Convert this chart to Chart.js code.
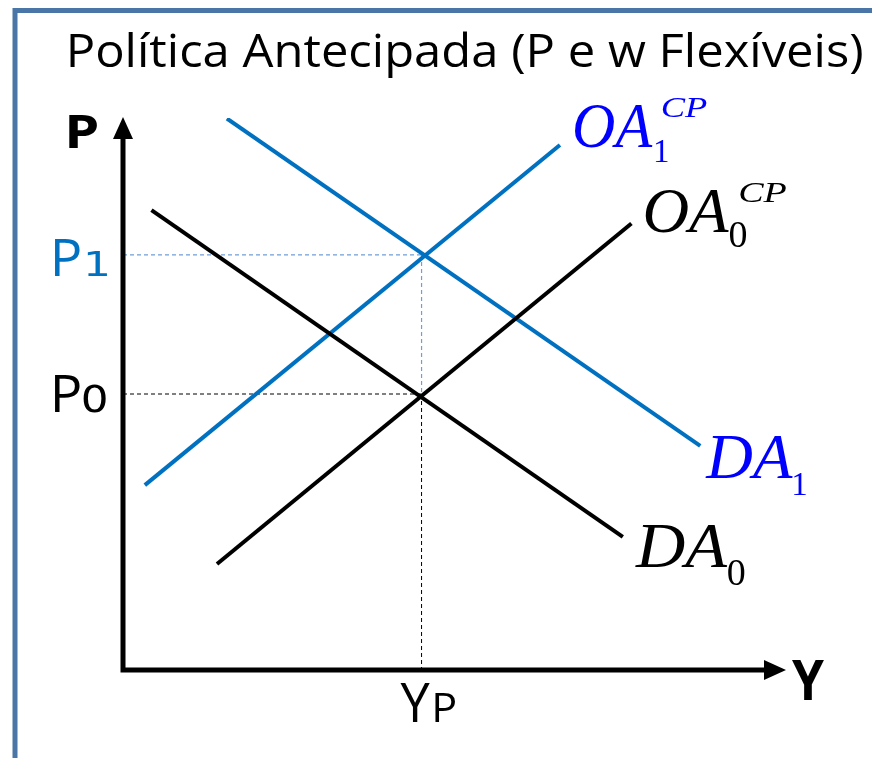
<!DOCTYPE html>
<html>
<head>
<meta charset="utf-8">
<script src="https://cdn.jsdelivr.net/npm/chart.js@4.4.1/dist/chart.umd.min.js"></script>
<style>
  html, body { margin: 0; padding: 0; background: #ffffff; }
  #wrap { width: 872px; height: 758px; position: relative; }
</style>
</head>
<body>
<div id="wrap"><canvas id="c" width="872" height="758"></canvas></div>
<script>
// ---------------- DATA ----------------
const titleText = 'Política Antecipada (P e w Flexíveis)';
const axisLabels = ['P', 'Y'];
const priceTickLabels = ['P', 'P'];
const priceTickSubs = ['0', '1'];
const priceLevels = [50.0, 75.2];          // P0, P1
const outputTickLabel = ['Y', 'P'];
const potentialOutput = 45.1;              // YP

// curves: [start, end]
const da0X = [4.3, 75.5],  da0Y = [83.3, 24.1];
const oa0X = [14.2, 76.8], oa0Y = [19.2, 80.9];
const da1X = [15.7, 87.2], da1Y = [99.9, 40.6];
const oa1X = [3.3, 66.0],  oa1Y = [33.5, 95.1];

const curveNames = ['DA', 'OA', 'DA', 'OA'];
const curveSubs  = ['0', '0', '1', '1'];
const curveSups  = ['', 'CP', '', 'CP'];

// ---------------- STYLE ----------------
const BLUE_LINE = '#0070C0';
const BLUE_TEXT = '#0000FF';
const LIGHT_DASH = '#6f9fd8';
const BORDER = '#4a76a7';

const pts = (xs, ys) => xs.map((x, i) => ({ x, y: ys[i] }));

const datasets = [
  { label: 'DA0', data: pts(da0X, da0Y), borderColor: '#000000', borderWidth: 4 },
  { label: 'OA0', data: pts(oa0X, oa0Y), borderColor: '#000000', borderWidth: 4 },
  { label: 'DA1', data: pts(da1X, da1Y), borderColor: BLUE_LINE, borderWidth: 4 },
  { label: 'OA1', data: pts(oa1X, oa1Y), borderColor: BLUE_LINE, borderWidth: 4 },
  // guide lines
  { label: 'P1 guide', data: [{x: 0, y: priceLevels[1]}, {x: potentialOutput, y: priceLevels[1]}], borderColor: LIGHT_DASH, borderWidth: 1.2, borderDash: [4, 3] },
  { label: 'P1 vert', data: [{x: potentialOutput, y: priceLevels[1]}, {x: potentialOutput, y: priceLevels[0]}], borderColor: LIGHT_DASH, borderWidth: 1.2, borderDash: [4, 3] },
  { label: 'P0 guide', data: [{x: 0, y: priceLevels[0]}, {x: potentialOutput, y: priceLevels[0]}], borderColor: '#000000', borderWidth: 1, borderDash: [4, 3] },
  { label: 'YP vert', data: [{x: potentialOutput, y: priceLevels[0]}, {x: potentialOutput, y: 0}], borderColor: '#000000', borderWidth: 1, borderDash: [4, 3] }
].map(d => Object.assign({ showLine: true, pointRadius: 0, fill: false, tension: 0, borderCapStyle: 'butt' }, d));

// draw text so its ink starts at inkLeft, optional horizontal fit to targetW
function inkText(ctx, s, font, color, inkLeft, baseline, targetW) {
  ctx.save();
  ctx.font = font;
  ctx.fillStyle = color;
  ctx.textAlign = 'left';
  ctx.textBaseline = 'alphabetic';
  const m = ctx.measureText(s);
  const w = m.actualBoundingBoxLeft + m.actualBoundingBoxRight;
  const sx = targetW ? targetW / w : 1;
  ctx.translate(inkLeft + m.actualBoundingBoxLeft * sx, baseline);
  ctx.scale(sx, 1);
  ctx.fillText(s, 0, 0);
  ctx.restore();
}

// label layout per curve: [dx, dy, mainW, subDx, subDy, subSize, supDx, supDy, supW]
const labelLayout = [
  [12, 30, 93, 93, 18, 38, 0, 0, 0],
  [14, 9, 84, 84, 15, 38, 94, -30, 47],
  [5, 32, 88, 88, 17, 33, 0, 0, 0],
  [15, 2, 78, 80, 15, 33, 87, -30, 45]
];

const decor = {
  id: 'decor',
  beforeDraw(chart) {
    const ctx = chart.ctx;
    ctx.save();
    ctx.fillStyle = '#ffffff';
    ctx.fillRect(0, 0, chart.width, chart.height);
    ctx.strokeStyle = BORDER;
    ctx.lineWidth = 5;
    ctx.beginPath();
    ctx.moveTo(12.5, 10.5); ctx.lineTo(872, 10.5);
    ctx.moveTo(15, 8); ctx.lineTo(15, 758);
    ctx.stroke();
    ctx.restore();
  },
  afterDraw(chart) {
    const ctx = chart.ctx;
    const xs = chart.scales.x, ys = chart.scales.y;
    const x0 = xs.getPixelForValue(0), y0 = ys.getPixelForValue(0);
    const xEnd = xs.getPixelForValue(100), yEnd = ys.getPixelForValue(100);
    ctx.save();
    ctx.strokeStyle = '#000'; ctx.fillStyle = '#000'; ctx.lineWidth = 5; ctx.lineCap = 'butt';
    ctx.beginPath();
    ctx.moveTo(x0, y0 + 2.5); ctx.lineTo(x0, yEnd + 20);
    ctx.moveTo(x0 - 2.5, y0); ctx.lineTo(xEnd - 20, y0);
    ctx.stroke();
    ctx.beginPath();
    ctx.moveTo(x0, yEnd - 1); ctx.lineTo(x0 - 10, yEnd + 21); ctx.lineTo(x0 + 10, yEnd + 21); ctx.closePath();
    ctx.fill();
    ctx.beginPath();
    ctx.moveTo(xEnd + 1, y0); ctx.lineTo(xEnd - 21, y0 - 10); ctx.lineTo(xEnd - 21, y0 + 10); ctx.closePath();
    ctx.fill();
    ctx.restore();

    inkText(ctx, titleText, '46px "Open Sans"', '#000', 70, 67, 792);
    inkText(ctx, axisLabels[0], 'bold 46px "Open Sans"', '#000', x0 - 54, yEnd + 30, 28);
    inkText(ctx, axisLabels[1], 'bold 56px "Open Sans"', '#000', xEnd + 7, y0 + 30, 32);

    const tickColors = ['#000000', BLUE_LINE];
    priceLevels.forEach((p, i) => {
      const py = ys.getPixelForValue(p);
      const base = py + (i === 0 ? 18 : 21);
      inkText(ctx, priceTickLabels[i], '52px "Open Sans"', tickColors[i], x0 - 68, base, 25);
      inkText(ctx, priceTickSubs[i], (i === 0 ? '38px' : '33px') + ' "DejaVu Sans"', tickColors[i], x0 - (i === 0 ? 40 : 36), base, i === 0 ? 23 : 20);
    });
    const px = xs.getPixelForValue(potentialOutput);
    inkText(ctx, outputTickLabel[0], '54px "Open Sans"', '#000', px - 21, y0 + 52, 30);
    inkText(ctx, outputTickLabel[1], '41px "Open Sans"', '#000', px + 14, y0 + 52, 20);

    const ends = [
      [da0X[1], da0Y[1], '#000'],
      [oa0X[1], oa0Y[1], '#000'],
      [da1X[1], da1Y[1], BLUE_TEXT],
      [oa1X[1], oa1Y[1], BLUE_TEXT]
    ];
    ends.forEach((e, i) => {
      const L = labelLayout[i];
      const ex = xs.getPixelForValue(e[0]), ey = ys.getPixelForValue(e[1]);
      const left = ex + L[0], base = ey + L[1];
      inkText(ctx, curveNames[i], 'italic 64px "Liberation Serif"', e[2], left, base, L[2]);
      inkText(ctx, curveSubs[i], L[5] + 'px "Liberation Serif"', e[2], left + L[3], base + L[4]);
      if (curveSups[i]) {
        inkText(ctx, curveSups[i], 'italic 30px "Liberation Serif"', e[2], left + L[6], base + L[7], L[8]);
      }
    });
  }
};

new Chart(document.getElementById('c'), {
  type: 'scatter',
  data: { datasets },
  options: {
    responsive: false,
    animation: false,
    devicePixelRatio: 1,
    layout: { padding: { left: 123, right: 87, top: 118, bottom: 88 } },
    plugins: { legend: { display: false }, title: { display: false }, tooltip: { enabled: false } },
    scales: {
      x: { type: 'linear', min: 0, max: 100, display: false },
      y: { type: 'linear', min: 0, max: 100, display: false }
    }
  },
  plugins: [decor]
});
</script>
</body>
</html>
